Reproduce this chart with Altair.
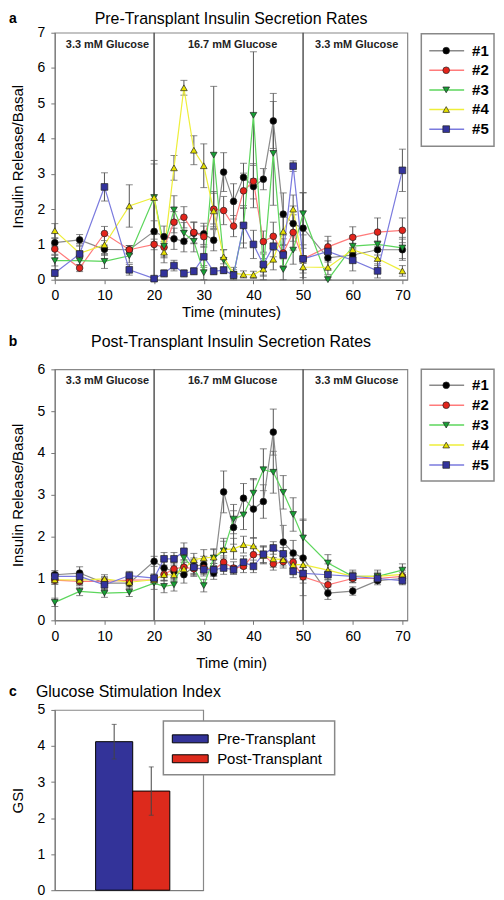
import altair as alt
import pandas as pd

FONT = "Liberation Sans"

times = [0, 5, 10, 15, 20, 22, 24, 26, 28, 30, 32, 34, 36, 38, 40, 42, 44, 46, 48, 50, 55, 60, 65, 70]
series = ["#1", "#2", "#3", "#4", "#5"]

# Panel a: pre-transplant (mean values per islet prep)
pre_s1 = [1.05, 1.13, 0.86, 0.85, 1.37, 1.22, 1.16, 1.09, 1.32, 1.30, 1.12, 3.05, 2.22, 2.90, 2.64, 2.85, 4.50, 1.86, 1.59, 1.46, 0.62, 0.70, 0.85, 0.85]
pre_s2 = [0.87, 0.33, 1.31, 0.85, 1.00, 0.92, 1.63, 1.77, 1.34, 1.22, 2.00, 1.96, 1.52, 2.52, 2.79, 1.08, 1.23, 0.76, 1.34, 0.59, 0.93, 1.20, 1.35, 1.40]
pre_s3 = [0.54, 0.54, 0.52, 0.68, 2.33, 0.95, 1.98, 1.32, 1.09, 0.20, 3.53, 0.55, 0.15, 1.50, 4.66, 0.30, 3.58, 0.29, 0.84, 1.87, 0.00, 0.95, 1.00, 0.90]
pre_s4 = [1.39, 0.75, 0.99, 2.09, 2.33, 0.78, 3.17, 5.44, 3.67, 3.23, 1.95, 0.65, 0.18, 0.15, 0.14, 0.30, 0.58, 1.37, 2.00, 0.36, 0.35, 0.85, 0.60, 0.25]
pre_s5 = [0.19, 0.73, 2.63, 0.28, 0.03, 0.18, 0.40, 0.18, 0.24, 0.65, 0.24, 0.27, 0.13, 1.54, 1.00, 0.43, 0.95, 0.70, 3.22, 0.59, 0.80, 0.55, 0.25, 3.10]

pre_e1 = [0.12, 0.15, 0.12, 0.12, 0.30, 0.30, 0.30, 0.30, 0.30, 0.30, 0.30, 0.55, 0.50, 0.40, 0.60, 0.30, 0.78, 0.60, 0.50, 1.00, 0.30, 0.20, 0.25, 0.30]
pre_e2 = [0.15, 0.10, 0.20, 0.12, 0.15, 0.30, 0.30, 0.30, 0.30, 0.30, 0.50, 0.40, 0.30, 0.50, 0.50, 0.30, 0.40, 0.40, 0.50, 0.40, 0.30, 0.30, 0.40, 0.35]
pre_e3 = [0.15, 0.15, 0.20, 0.20, 0.95, 0.30, 0.40, 0.30, 0.30, 0.20, 1.95, 0.30, 0.20, 0.60, 1.80, 0.30, 1.47, 0.30, 0.40, 0.60, 0.10, 0.30, 0.30, 0.30]
pre_e4 = [0.20, 0.20, 0.30, 0.60, 1.05, 0.30, 0.35, 0.21, 0.41, 0.62, 0.50, 0.20, 0.10, 0.10, 0.10, 0.20, 0.30, 0.40, 0.40, 0.30, 0.20, 0.30, 0.20, 0.15]
pre_e5 = [0.10, 0.30, 0.40, 0.15, 0.05, 0.10, 0.15, 0.10, 0.10, 0.30, 0.10, 0.10, 0.10, 0.50, 0.40, 0.30, 0.30, 0.30, 0.15, 0.30, 0.30, 0.30, 0.20, 0.60]

# Panel b: post-transplant
post_s1 = [1.09, 1.13, 0.89, 0.89, 1.41, 1.25, 1.17, 1.09, 1.29, 1.33, 1.13, 3.07, 2.22, 2.92, 2.66, 2.84, 4.50, 1.87, 1.61, 1.49, 0.65, 0.70, 0.95, 1.00]
post_s2 = [0.96, 0.93, 0.93, 0.96, 0.97, 1.10, 1.23, 1.27, 1.23, 1.25, 1.21, 1.39, 1.25, 1.29, 1.57, 1.57, 1.35, 1.40, 1.39, 1.04, 0.85, 1.00, 1.00, 1.05]
post_s3 = [0.43, 0.69, 0.65, 0.67, 0.89, 0.81, 0.85, 1.49, 1.25, 0.83, 1.49, 1.66, 2.42, 2.52, 3.04, 3.60, 3.54, 3.06, 2.53, 1.97, 1.37, 1.05, 1.05, 1.20]
post_s4 = [0.97, 0.96, 0.99, 0.91, 0.97, 1.09, 1.09, 1.23, 1.45, 1.49, 1.51, 1.69, 1.71, 1.81, 1.78, 1.55, 1.47, 1.45, 1.33, 1.33, 1.20, 1.05, 1.05, 1.10]
post_s5 = [1.05, 1.05, 0.85, 1.07, 1.01, 1.47, 1.47, 1.65, 1.27, 1.21, 1.21, 1.25, 1.21, 1.39, 1.29, 1.58, 1.73, 1.59, 1.17, 1.12, 1.09, 1.05, 1.00, 0.95]

post_e1 = [0.10, 0.15, 0.15, 0.12, 0.12, 0.20, 0.20, 0.20, 0.20, 0.20, 0.15, 0.50, 0.40, 0.35, 0.70, 0.40, 0.55, 0.40, 0.30, 0.90, 0.15, 0.10, 0.10, 0.10]
post_e2 = [0.10, 0.10, 0.10, 0.10, 0.10, 0.15, 0.15, 0.15, 0.15, 0.15, 0.15, 0.15, 0.15, 0.15, 0.20, 0.20, 0.15, 0.15, 0.15, 0.15, 0.12, 0.10, 0.10, 0.10]
post_e3 = [0.10, 0.10, 0.10, 0.10, 0.15, 0.15, 0.15, 0.20, 0.20, 0.15, 0.20, 0.30, 0.35, 0.35, 0.35, 0.50, 0.50, 0.40, 0.40, 0.45, 0.20, 0.15, 0.15, 0.15]
post_e4 = [0.10, 0.10, 0.10, 0.10, 0.10, 0.15, 0.15, 0.15, 0.15, 0.20, 0.20, 0.20, 0.25, 0.20, 0.20, 0.20, 0.20, 0.15, 0.15, 0.15, 0.15, 0.10, 0.10, 0.10]
post_e5 = [0.10, 0.10, 0.15, 0.10, 0.10, 0.15, 0.15, 0.20, 0.15, 0.15, 0.15, 0.15, 0.10, 0.15, 0.15, 0.20, 0.15, 0.15, 0.15, 0.15, 0.12, 0.10, 0.10, 0.10]

line_colors = ["#8a8a8a", "#ff7b7b", "#5cd65c", "#eeee3a", "#7a7ade"]
marker_colors = ["#000000", "#e3241b", "#17a035", "#e6e000", "#33339c"]
marker_shapes = ["circle", "circle", "triangle-down", "triangle-up", "square"]

phase_labels = ["3.3 mM Glucose", "16.7 mM Glucose", "3.3 mM Glucose"]
phase_centers = [10.6, 35.8, 60.8]
phase_bounds = [20, 50]

gsi_groups = ["Pre-Transplant", "Post-Transplant"]
gsi_values = [4.12, 2.75]
gsi_errors = [0.48, 0.67]
gsi_colors = ["#333399", "#dd2a1c"]

W = 354
H_A, H_B, H_C = 248, 252, 181
W_C = 149


def long_df(vals, errs):
    rows = []
    for k, s in enumerate(series):
        for t, v, e in zip(times, vals[k], errs[k]):
            rows.append({"time": t, "series": s, "value": v,
                         "lo": max(0.0, v - e), "hi": v + e})
    return pd.DataFrame(rows)


line_scale = alt.Scale(domain=series, range=line_colors)
fill_scale = alt.Scale(domain=series, range=marker_colors)
shape_scale = alt.Scale(domain=series, range=marker_shapes)


def panel(df, ymax, height, title, letter, title_dy, xtitle, xtitle_pad,
          leg_y0, leg_step, box_y0, box_y1):
    xscale = alt.Scale(domain=[0, 71], nice=False, zero=False)
    xaxis = alt.Axis(values=list(range(0, 71, 10)), title=xtitle, titlePadding=xtitle_pad,
                     labelPadding=5, tickSize=4, labelFlush=False, grid=False)
    yscale = alt.Scale(domain=[0, ymax], nice=False)
    yaxis = alt.Axis(values=list(range(0, ymax + 1)), title="Insulin Release/Basal",
                     titlePadding=12, labelPadding=6, tickSize=4, labelFlush=False, grid=False)
    X = alt.X("time:Q", scale=xscale, axis=xaxis)

    def Y(f):
        return alt.Y(f"{f}:Q", scale=yscale, axis=yaxis)

    base = alt.Chart(df)
    vlines = alt.Chart(pd.DataFrame({"time": phase_bounds})).mark_rule(
        color="#555555", strokeWidth=1.5).encode(x=X)
    phase = alt.Chart(pd.DataFrame({"time": phase_centers, "label": phase_labels})).mark_text(
        font=FONT, fontSize=11, fontWeight="bold", color="#222").encode(
        x=X, y=alt.value(12), text="label:N")
    err = base.mark_rule(color="#555555", strokeWidth=1).encode(x=X, y=Y("lo"), y2="hi:Q")
    caps = base.transform_fold(["lo", "hi"], as_=["which", "capv"]).mark_tick(
        orient="horizontal", size=7, thickness=1, color="#555555").encode(x=X, y=Y("capv"))
    lines = base.mark_line(strokeWidth=1.2).encode(
        x=X, y=Y("value"), color=alt.Color("series:N", scale=line_scale, legend=None))
    pts = base.mark_point(filled=True, size=45, stroke="#222222", strokeWidth=0.7, opacity=1).encode(
        x=X, y=Y("value"),
        fill=alt.Fill("series:N", scale=fill_scale, legend=None),
        shape=alt.Shape("series:N", scale=shape_scale, legend=None))

    tdf = pd.DataFrame({"label": [title]})
    ttl = alt.Chart(tdf).mark_text(font=FONT, fontSize=16, color="black").encode(
        x=alt.value(W / 2), y=alt.value(title_dy), text="label:N")
    ldf = pd.DataFrame({"label": [letter]})
    let = alt.Chart(ldf).mark_text(font=FONT, fontSize=14, fontWeight="bold", color="black").encode(
        x=alt.value(-42), y=alt.value(title_dy), text="label:N")

    legdf = pd.DataFrame({"series": series, "idx": list(range(len(series)))})
    leg = alt.Chart(legdf).transform_calculate(py=f"{leg_y0} + {leg_step} * datum.idx")
    box = alt.Chart(pd.DataFrame({"k": [0]})).mark_rect(
        fill="white", stroke="#888888", strokeWidth=1.5).encode(
        x=alt.value(368), x2=alt.value(441), y=alt.value(box_y0), y2=alt.value(box_y1))
    leg_line = leg.mark_rule(strokeWidth=1.5).encode(
        x=alt.value(376), x2=alt.value(411), y=alt.Y("py:Q", scale=None),
        color=alt.Color("series:N", scale=line_scale, legend=None))
    leg_pt = leg.mark_point(filled=True, size=45, stroke="#222222", strokeWidth=0.7, opacity=1).encode(
        x=alt.value(393), y=alt.Y("py:Q", scale=None),
        fill=alt.Fill("series:N", scale=fill_scale, legend=None),
        shape=alt.Shape("series:N", scale=shape_scale, legend=None))
    leg_txt = leg.mark_text(font=FONT, fontSize=15, fontWeight="bold", align="left",
                            baseline="middle", color="black").encode(
        x=alt.value(419), y=alt.Y("py:Q", scale=None), text="series:N")

    return alt.layer(vlines, phase, err, caps, lines, pts, ttl, let,
                     box, leg_line, leg_pt, leg_txt).properties(width=W, height=height)


pa = panel(long_df([pre_s1, pre_s2, pre_s3, pre_s4, pre_s5], [pre_e1, pre_e2, pre_e3, pre_e4, pre_e5]),
           7, H_A, "Pre-Transplant Insulin Secretion Rates", "a", -14, "Time (minutes)", 2,
           18, 19.7, 1, 114)
pb = panel(long_df([post_s1, post_s2, post_s3, post_s4, post_s5], [post_e1, post_e2, post_e3, post_e4, post_e5]),
           6, H_B, "Post-Transplant Insulin Secretion Rates", "b", -27, "Time (min)", 12,
           16, 20, 0, 112)

# Panel c
gdf = pd.DataFrame({"group": gsi_groups, "gsi": gsi_values, "err": gsi_errors})
gfill = alt.Scale(domain=gsi_groups, range=gsi_colors)
xband = alt.X("group:N", scale=alt.Scale(domain=gsi_groups, paddingInner=0, paddingOuter=1, align=0.55),
              axis=alt.Axis(labels=False, ticks=False, title=None, domain=True))
gy = alt.Scale(domain=[0, 5], nice=False)
gaxis = alt.Axis(values=[0, 1, 2, 3, 4, 5], title="GSI", titlePadding=12, labelPadding=6,
                 tickSize=4, labelFlush=False, grid=False)
gbase = alt.Chart(gdf)
bars = gbase.mark_bar(stroke="black", strokeWidth=1).encode(
    x=xband, y=alt.Y("gsi:Q", scale=gy, axis=gaxis),
    fill=alt.Fill("group:N", scale=gfill, legend=None))
gerr_b = gbase.transform_calculate(lo="datum.gsi - datum.err", hi="datum.gsi + datum.err")
gerr = gerr_b.mark_rule(color="#444444", strokeWidth=1).encode(
    x=xband, y=alt.Y("lo:Q", scale=gy, axis=gaxis), y2="hi:Q")
gcaps = gerr_b.transform_fold(["lo", "hi"], as_=["which", "capv"]).mark_tick(
    orient="horizontal", size=5, thickness=1, color="#444444").encode(
    x=xband, y=alt.Y("capv:Q", scale=gy, axis=gaxis))
cttl = alt.Chart(pd.DataFrame({"label": ["Glucose Stimulation Index"]})).mark_text(
    font=FONT, fontSize=16, align="left", color="black").encode(
    x=alt.value(-19), y=alt.value(-18), text="label:N")
clet = alt.Chart(pd.DataFrame({"label": ["c"]})).mark_text(
    font=FONT, fontSize=14, fontWeight="bold", color="black").encode(
    x=alt.value(-42), y=alt.value(-18), text="label:N")
cbox = alt.Chart(pd.DataFrame({"k": [0]})).mark_rect(
    fill="white", stroke="#888888", strokeWidth=1.5).encode(
    x=alt.value(109), x2=alt.value(281), y=alt.value(11), y2=alt.value(65))
cleg = alt.Chart(pd.DataFrame({"group": gsi_groups, "idx": [0, 1]})).transform_calculate(
    py="29 + 20 * datum.idx").transform_calculate(y0="datum.py - 4", y1="datum.py + 4")
csw = cleg.mark_rect(stroke="black", strokeWidth=1).encode(
    x=alt.value(118), x2=alt.value(154), y=alt.Y("y0:Q", scale=None), y2="y1:Q",
    fill=alt.Fill("group:N", scale=gfill, legend=None))
ctxt = cleg.mark_text(font=FONT, fontSize=15, align="left", baseline="middle", color="black").encode(
    x=alt.value(163), y=alt.Y("py:Q", scale=None), text="group:N")

pc = alt.layer(bars, gerr, gcaps, cttl, clet, cbox, csw, ctxt).properties(width=W_C, height=H_C)

chart = alt.vconcat(pa, pb, pc, spacing=90, bounds="flush").resolve_scale(
    fill="independent", color="independent", shape="independent"
).properties(
    padding=0
).configure_view(
    stroke="#888888", strokeWidth=1.2
).configure_axis(
    labelFont=FONT, titleFont=FONT, labelFontSize=14, titleFontSize=15,
    titleFontWeight="normal", labelColor="black", titleColor="black",
    domainColor="#777777", tickColor="#777777"
)

chart.save("out.html", embed_options={"renderer": "svg", "actions": False})
